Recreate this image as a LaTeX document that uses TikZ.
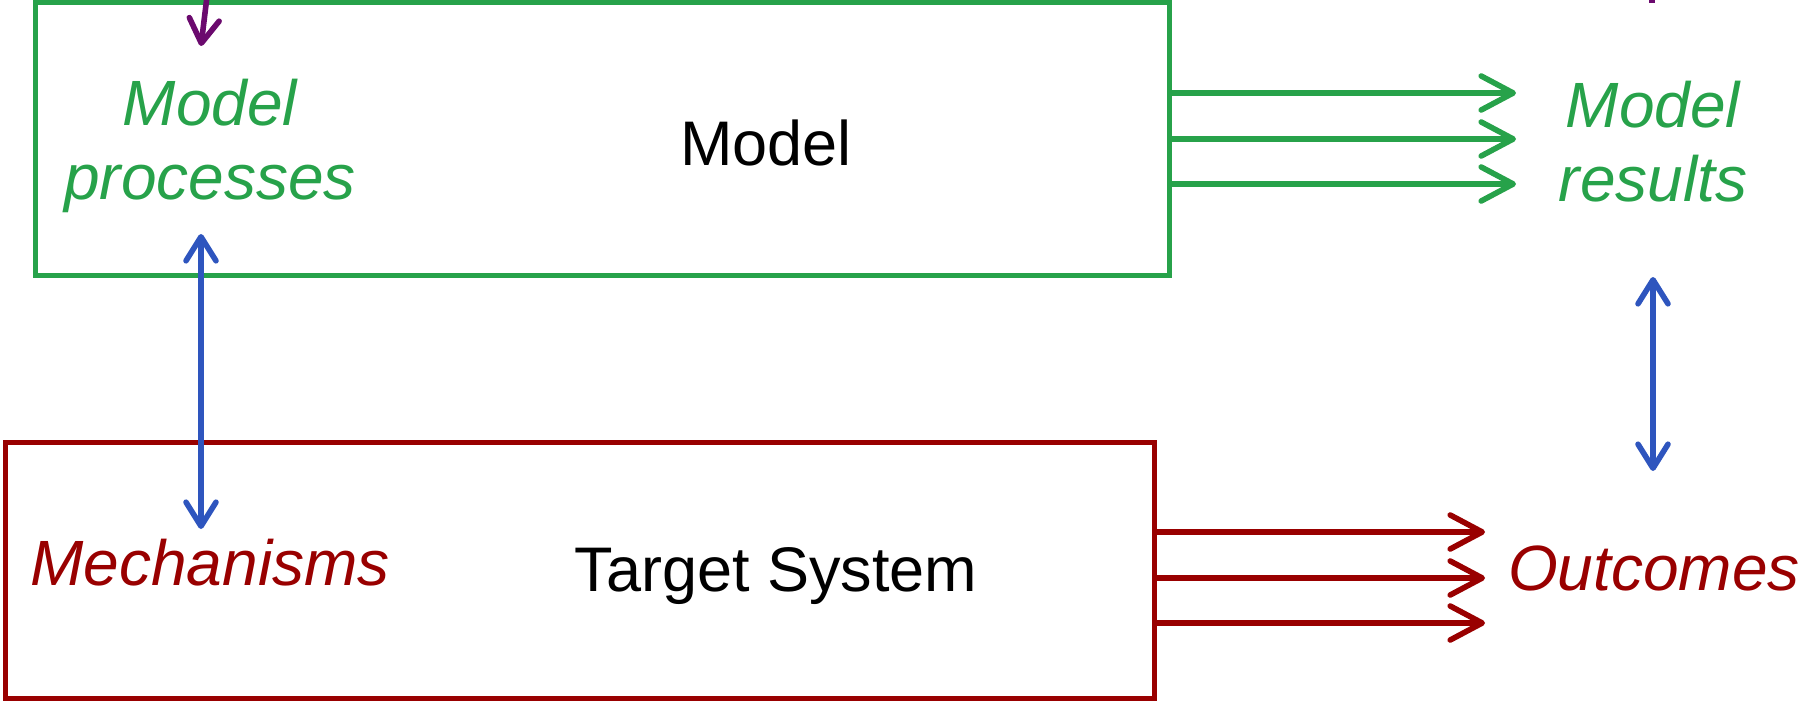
\documentclass[tikz,border=0pt]{standalone}
\usepackage{fontspec}
\setmainfont{Liberation Sans}
\usetikzlibrary{arrows.meta,calc}
\definecolor{mgreen}{RGB}{39,162,74}
\definecolor{mred}{RGB}{153,0,0}
\definecolor{mblue}{RGB}{46,85,190}
\definecolor{mpurple}{RGB}{107,10,110}
\tikzset{
  lbl/.style={font=\fontsize{31.5}{37}\selectfont, align=center, inner sep=0pt},
  ilbl/.style={lbl, font=\fontsize{32}{37}\selectfont\itshape},
  boxg/.style={draw=mgreen, line width=2.5pt, minimum width=567pt, minimum height=136pt, inner sep=0pt},
  boxr/.style={draw=mred, line width=2.5pt, minimum width=574.5pt, minimum height=128pt, inner sep=0pt},
  tip/.style={-{Straight Barb[length=16pt,width=17pt,line cap=round,line join=round]}},
  gar/.style={tip, draw=mgreen, line width=2.8pt},
  rar/.style={tip, draw=mred, line width=2.8pt},
  bar/.style={{Straight Barb[length=12pt,width=15pt,line cap=round,line join=round]}-{Straight Barb[length=12pt,width=15pt,line cap=round,line join=round]}, draw=mblue, line width=2.8pt},
  par/.style={-{Straight Barb[length=12pt,width=15pt,line cap=round,line join=round]}, draw=mpurple, line width=2.8pt},
}
\begin{document}
\begin{tikzpicture}[x=0.5pt,y=-0.5pt]
\useasboundingbox (0,0) rectangle (1799,701);
\clip (0,0) rectangle (1799,701);
% boxes
\node[boxg] (gbox) at (602,139) {};
\node[boxr] (rbox) at (579.5,570) {};
% labels
\node[lbl] (model) at (766,143) {Model};
\node[lbl] (target) at (776,576) {Target System};
\node[ilbl, text=mgreen] (proc) at (210,146) {Model\\processes};
\node[ilbl, text=mgreen] (res) at (1653,142) {Model\\results};
\node[ilbl, text=mred] (mech) at (210,563) {Mechanisms};
\node[ilbl, text=mred] (out) at (1654,568) {Outcomes};
% green arrows
\coordinate (g1) at (1516,93);
\coordinate (g2) at (1516,139);
\coordinate (g3) at (1516,184);
\draw[gar] (gbox.east |- g1) -- (g1);
\draw[gar] (gbox.east |- g2) -- (g2);
\draw[gar] (gbox.east |- g3) -- (g3);
% red arrows
\coordinate (r1) at (1485,532);
\coordinate (r2) at (1485,578);
\coordinate (r3) at (1485,623);
\draw[rar] (rbox.east |- r1) -- (r1);
\draw[rar] (rbox.east |- r2) -- (r2);
\draw[rar] (rbox.east |- r3) -- (r3);
% blue arrows
\coordinate (b1) at (201,234);
\coordinate (b2) at (201,529);
\draw[bar] (b1) -- (b2);
\coordinate (b3) at (1653,277);
\coordinate (b4) at (1653,471);
\draw[bar] (b3) -- (b4);
% purple arrows (cut off at top)
\coordinate (p0) at (209,-20);
\coordinate (p1) at (201,46);
\draw[par] (p0) -- (p1);
\coordinate (q0) at (1652,-20);
\coordinate (q1) at (1652,3);
\draw[draw=mpurple, line width=2.8pt] (q0) -- (q1);
\end{tikzpicture}
\end{document}
